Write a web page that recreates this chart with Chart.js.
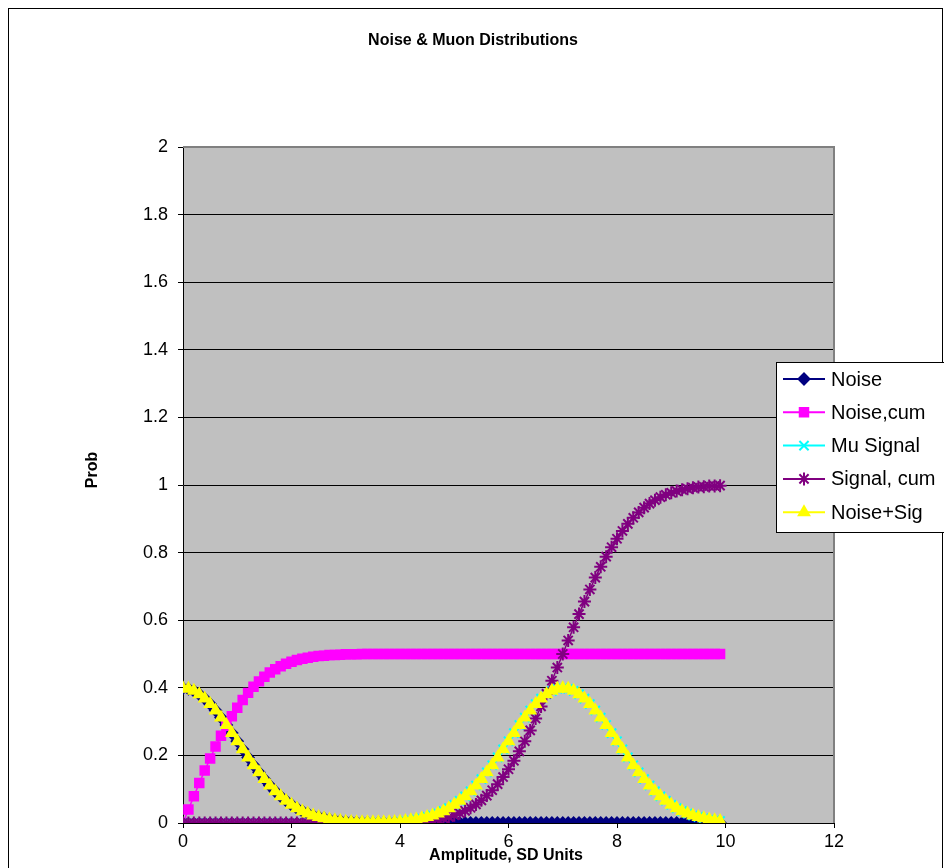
<!DOCTYPE html>
<html>
<head>
<meta charset="utf-8">
<title>Noise & Muon Distributions</title>
<script src="https://cdn.jsdelivr.net/npm/chart.js@4.4.1/dist/chart.umd.min.js"></script>
<style>
  html, body { margin: 0; padding: 0; background: #fff; }
  #chart { display: block; }
</style>
</head>
<body>
<canvas id="chart" width="944" height="868"></canvas>
<script>
// amplitude in SD units, 0 .. 9.9 in steps of 0.1
const xValues = [
  0, 0.1, 0.2, 0.3, 0.4, 0.5, 0.6, 0.7, 0.8, 0.9,
  1, 1.1, 1.2, 1.3, 1.4, 1.5, 1.6, 1.7, 1.8, 1.9,
  2, 2.1, 2.2, 2.3, 2.4, 2.5, 2.6, 2.7, 2.8, 2.9,
  3, 3.1, 3.2, 3.3, 3.4, 3.5, 3.6, 3.7, 3.8, 3.9,
  4, 4.1, 4.2, 4.3, 4.4, 4.5, 4.6, 4.7, 4.8, 4.9,
  5, 5.1, 5.2, 5.3, 5.4, 5.5, 5.6, 5.7, 5.8, 5.9,
  6, 6.1, 6.2, 6.3, 6.4, 6.5, 6.6, 6.7, 6.8, 6.9,
  7, 7.1, 7.2, 7.3, 7.4, 7.5, 7.6, 7.7, 7.8, 7.9,
  8, 8.1, 8.2, 8.3, 8.4, 8.5, 8.6, 8.7, 8.8, 8.9,
  9, 9.1, 9.2, 9.3, 9.4, 9.5, 9.6, 9.7, 9.8, 9.9
];

const noise = [
  0.399, 0.397, 0.391, 0.381, 0.368, 0.352, 0.333, 0.312, 0.290, 0.266,
  0.242, 0.218, 0.194, 0.171, 0.150, 0.130, 0.111, 0.094, 0.079, 0.066,
  0.054, 0.044, 0.035, 0.028, 0.022, 0.018, 0.014, 0.010, 0.008, 0.006,
  0.004, 0.003, 0.002, 0.002, 0.001, 0.001, 0.001, 0, 0, 0,
  0, 0, 0, 0, 0, 0, 0, 0, 0, 0,
  0, 0, 0, 0, 0, 0, 0, 0, 0, 0,
  0, 0, 0, 0, 0, 0, 0, 0, 0, 0,
  0, 0, 0, 0, 0, 0, 0, 0, 0, 0,
  0, 0, 0, 0, 0, 0, 0, 0, 0, 0,
  0, 0, 0, 0, 0, 0, 0, 0, 0, 0
];

const noiseCum = [
  0, 0.040, 0.079, 0.118, 0.155, 0.191, 0.226, 0.258, 0.288, 0.316,
  0.341, 0.364, 0.385, 0.403, 0.419, 0.433, 0.445, 0.455, 0.464, 0.471,
  0.477, 0.482, 0.486, 0.489, 0.492, 0.494, 0.495, 0.497, 0.497, 0.498,
  0.499, 0.499, 0.499, 0.5, 0.5, 0.5, 0.5, 0.5, 0.5, 0.5,
  0.5, 0.5, 0.5, 0.5, 0.5, 0.5, 0.5, 0.5, 0.5, 0.5,
  0.5, 0.5, 0.5, 0.5, 0.5, 0.5, 0.5, 0.5, 0.5, 0.5,
  0.5, 0.5, 0.5, 0.5, 0.5, 0.5, 0.5, 0.5, 0.5, 0.5,
  0.5, 0.5, 0.5, 0.5, 0.5, 0.5, 0.5, 0.5, 0.5, 0.5,
  0.5, 0.5, 0.5, 0.5, 0.5, 0.5, 0.5, 0.5, 0.5, 0.5,
  0.5, 0.5, 0.5, 0.5, 0.5, 0.5, 0.5, 0.5, 0.5, 0.5
];

const muSignal = [
  0, 0, 0, 0, 0, 0, 0, 0, 0, 0,
  0, 0, 0, 0, 0, 0, 0, 0, 0, 0,
  0, 0, 0, 0, 0, 0, 0, 0, 0, 0,
  0, 0, 0, 0, 0.001, 0.001, 0.001, 0.002, 0.002, 0.003,
  0.004, 0.006, 0.008, 0.010, 0.014, 0.018, 0.022, 0.028, 0.035, 0.044,
  0.054, 0.066, 0.079, 0.094, 0.111, 0.130, 0.150, 0.171, 0.194, 0.218,
  0.242, 0.266, 0.290, 0.312, 0.333, 0.352, 0.368, 0.381, 0.391, 0.397,
  0.399, 0.397, 0.391, 0.381, 0.368, 0.352, 0.333, 0.312, 0.290, 0.266,
  0.242, 0.218, 0.194, 0.171, 0.150, 0.130, 0.111, 0.094, 0.079, 0.066,
  0.054, 0.044, 0.035, 0.028, 0.022, 0.018, 0.014, 0.010, 0.008, 0.006
];

const signalCum = [
  0, 0, 0, 0, 0, 0, 0, 0, 0, 0,
  0, 0, 0, 0, 0, 0, 0, 0, 0, 0,
  0, 0, 0, 0, 0, 0, 0, 0, 0, 0,
  0, 0, 0, 0, 0, 0, 0, 0, 0.001, 0.001,
  0.001, 0.002, 0.003, 0.003, 0.005, 0.006, 0.008, 0.011, 0.014, 0.018,
  0.023, 0.029, 0.036, 0.045, 0.055, 0.067, 0.081, 0.097, 0.115, 0.136,
  0.159, 0.184, 0.212, 0.242, 0.274, 0.309, 0.345, 0.382, 0.421, 0.460,
  0.500, 0.540, 0.579, 0.618, 0.655, 0.691, 0.726, 0.758, 0.788, 0.816,
  0.841, 0.864, 0.885, 0.903, 0.919, 0.933, 0.945, 0.955, 0.964, 0.971,
  0.977, 0.982, 0.986, 0.989, 0.992, 0.994, 0.995, 0.997, 0.997, 0.998
];

const noiseSig = [
  0.399, 0.397, 0.391, 0.381, 0.368, 0.352, 0.333, 0.312, 0.290, 0.266,
  0.242, 0.218, 0.194, 0.171, 0.150, 0.130, 0.111, 0.094, 0.079, 0.066,
  0.054, 0.044, 0.035, 0.028, 0.022, 0.018, 0.014, 0.010, 0.008, 0.006,
  0.004, 0.003, 0.002, 0.002, 0.002, 0.002, 0.002, 0.002, 0.002, 0.003,
  0.004, 0.006, 0.008, 0.010, 0.014, 0.018, 0.022, 0.028, 0.035, 0.044,
  0.054, 0.066, 0.079, 0.094, 0.111, 0.130, 0.150, 0.171, 0.194, 0.218,
  0.242, 0.266, 0.290, 0.312, 0.333, 0.352, 0.368, 0.381, 0.391, 0.397,
  0.399, 0.397, 0.391, 0.381, 0.368, 0.352, 0.333, 0.312, 0.290, 0.266,
  0.242, 0.218, 0.194, 0.171, 0.150, 0.130, 0.111, 0.094, 0.079, 0.066,
  0.054, 0.044, 0.035, 0.028, 0.022, 0.018, 0.014, 0.010, 0.008, 0.006
];

const seriesNames = ['Noise', 'Noise,cum', 'Mu Signal', 'Signal, cum', 'Noise+Sig'];
const xTicks = [0, 2, 4, 6, 8, 10, 12];
const xTickLabels = ['0', '2', '4', '6', '8', '10', '12'];
const yTicks = [0, 0.2, 0.4, 0.6, 0.8, 1, 1.2, 1.4, 1.6, 1.8, 2];
const yTickLabels = ['0', '0.2', '0.4', '0.6', '0.8', '1', '1.2', '1.4', '1.6', '1.8', '2'];

const FONT = "'Liberation Sans', Arial, sans-serif";

const toPoints = (values) => values.map((v, i) => ({ x: xValues[i], y: v }));

// styling per series, Excel 2003 default look
const styles = [
  { color: '#000080', pointStyle: 'rectRot', radius: 5.5, order: 5 },
  { color: '#FF00FF', pointStyle: 'rect', radius: 6, order: 4 },
  { color: '#00FFFF', pointStyle: 'crossRot', radius: 6.5, order: 3 },
  { color: '#800080', pointStyle: 'star', radius: 6.5, order: 2 },
  { color: '#FFFF00', pointStyle: 'triangle', radius: 6, order: 1 },
];

const seriesValues = [noise, noiseCum, muSignal, signalCum, noiseSig];

const datasets = seriesValues.map((values, i) => ({
  label: seriesNames[i],
  data: toPoints(values),
  showLine: true,
  borderColor: styles[i].color,
  backgroundColor: styles[i].color,
  borderWidth: 1.5,
  pointStyle: styles[i].pointStyle,
  pointRadius: styles[i].radius,
  pointBorderWidth: 2,
  pointBorderColor: styles[i].color,
  pointBackgroundColor: styles[i].color,
  order: styles[i].order,
}));

// plot background, frame, titles and the boxed legend
const excelLook = {
  id: 'excelLook',
  beforeDraw(chart) {
    const { ctx, chartArea: a } = chart;
    ctx.save();
    ctx.fillStyle = '#fff';
    ctx.fillRect(0, 0, chart.width, chart.height);
    ctx.strokeStyle = '#000';
    ctx.lineWidth = 1;
    ctx.strokeRect(8.5, 8.5, 934, 870);
    ctx.fillStyle = '#C0C0C0';
    ctx.fillRect(a.left, a.top, a.right - a.left, a.bottom - a.top);
    ctx.restore();
  },
  afterDraw(chart) {
    const { ctx, chartArea: a } = chart;
    ctx.save();
    // gray frame on top and right of plot
    ctx.strokeStyle = '#808080';
    ctx.lineWidth = 2;
    ctx.beginPath();
    ctx.moveTo(a.left, a.top);
    ctx.lineTo(a.right, a.top);
    ctx.lineTo(a.right, a.bottom);
    ctx.stroke();

    ctx.fillStyle = '#000';
    ctx.textAlign = 'center';
    ctx.textBaseline = 'middle';
    ctx.font = 'bold 16px ' + FONT;
    ctx.fillText('Noise & Muon Distributions', 473, 41);
    ctx.fillText('Amplitude, SD Units', 506, 856);
    ctx.save();
    ctx.translate(93, 470);
    ctx.rotate(-Math.PI / 2);
    ctx.fillText('Prob', 0, 0);
    ctx.restore();

    // legend
    const lx = 776, ly = 362, rowH = 33.3;
    ctx.fillStyle = '#fff';
    ctx.fillRect(lx, ly, 180, 170);
    ctx.strokeStyle = '#000';
    ctx.lineWidth = 1;
    ctx.strokeRect(lx + 0.5, ly + 0.5, 180, 170);
    ctx.font = '20px ' + FONT;
    ctx.textAlign = 'left';
    seriesNames.forEach((name, i) => {
      const y = ly + 17 + i * rowH;
      ctx.strokeStyle = styles[i].color;
      ctx.lineWidth = 2;
      ctx.beginPath();
      ctx.moveTo(783, y);
      ctx.lineTo(825, y);
      ctx.stroke();
      ctx.fillStyle = styles[i].color;
      ctx.lineWidth = 2;
      Chart.helpers.drawPoint(ctx, { pointStyle: styles[i].pointStyle, radius: styles[i].radius, borderWidth: 2 }, 804, y);
      ctx.fillStyle = '#000';
      ctx.fillText(name, 831, y + 1);
    });
    ctx.restore();
  }
};

new Chart(document.getElementById('chart'), {
  type: 'scatter',
  data: { datasets },
  options: {
    responsive: false,
    animation: false,
    layout: { padding: { left: 0, top: 147, right: 110, bottom: 0 } },
    plugins: {
      legend: { display: false },
      tooltip: { enabled: false },
      title: { display: false },
    },
    scales: {
      x: {
        type: 'linear',
        min: 0,
        max: 12,
        afterFit: (scale) => { scale.height = 45; },
        afterBuildTicks: (scale) => { scale.ticks = xTicks.map((v) => ({ value: v })); },
        ticks: {
          color: '#000',
          font: { family: FONT, size: 18 },
          padding: 3,
          maxRotation: 0,
          callback: (v, i) => xTickLabels[i],
        },
        grid: { drawOnChartArea: false, color: '#000', tickLength: 5 },
        border: { color: '#000', width: 1 },
      },
      y: {
        min: 0,
        max: 2,
        afterFit: (scale) => { scale.width = 183; },
        afterBuildTicks: (scale) => { scale.ticks = yTicks.map((v) => ({ value: v })); },
        ticks: {
          color: '#000',
          font: { family: FONT, size: 18 },
          padding: 10,
          callback: (v, i) => yTickLabels[i],
        },
        grid: { color: '#000', lineWidth: 1, tickLength: 5 },
        border: { color: '#000', width: 1 },
      },
    },
  },
  plugins: [excelLook],
});
</script>
</body>
</html>
